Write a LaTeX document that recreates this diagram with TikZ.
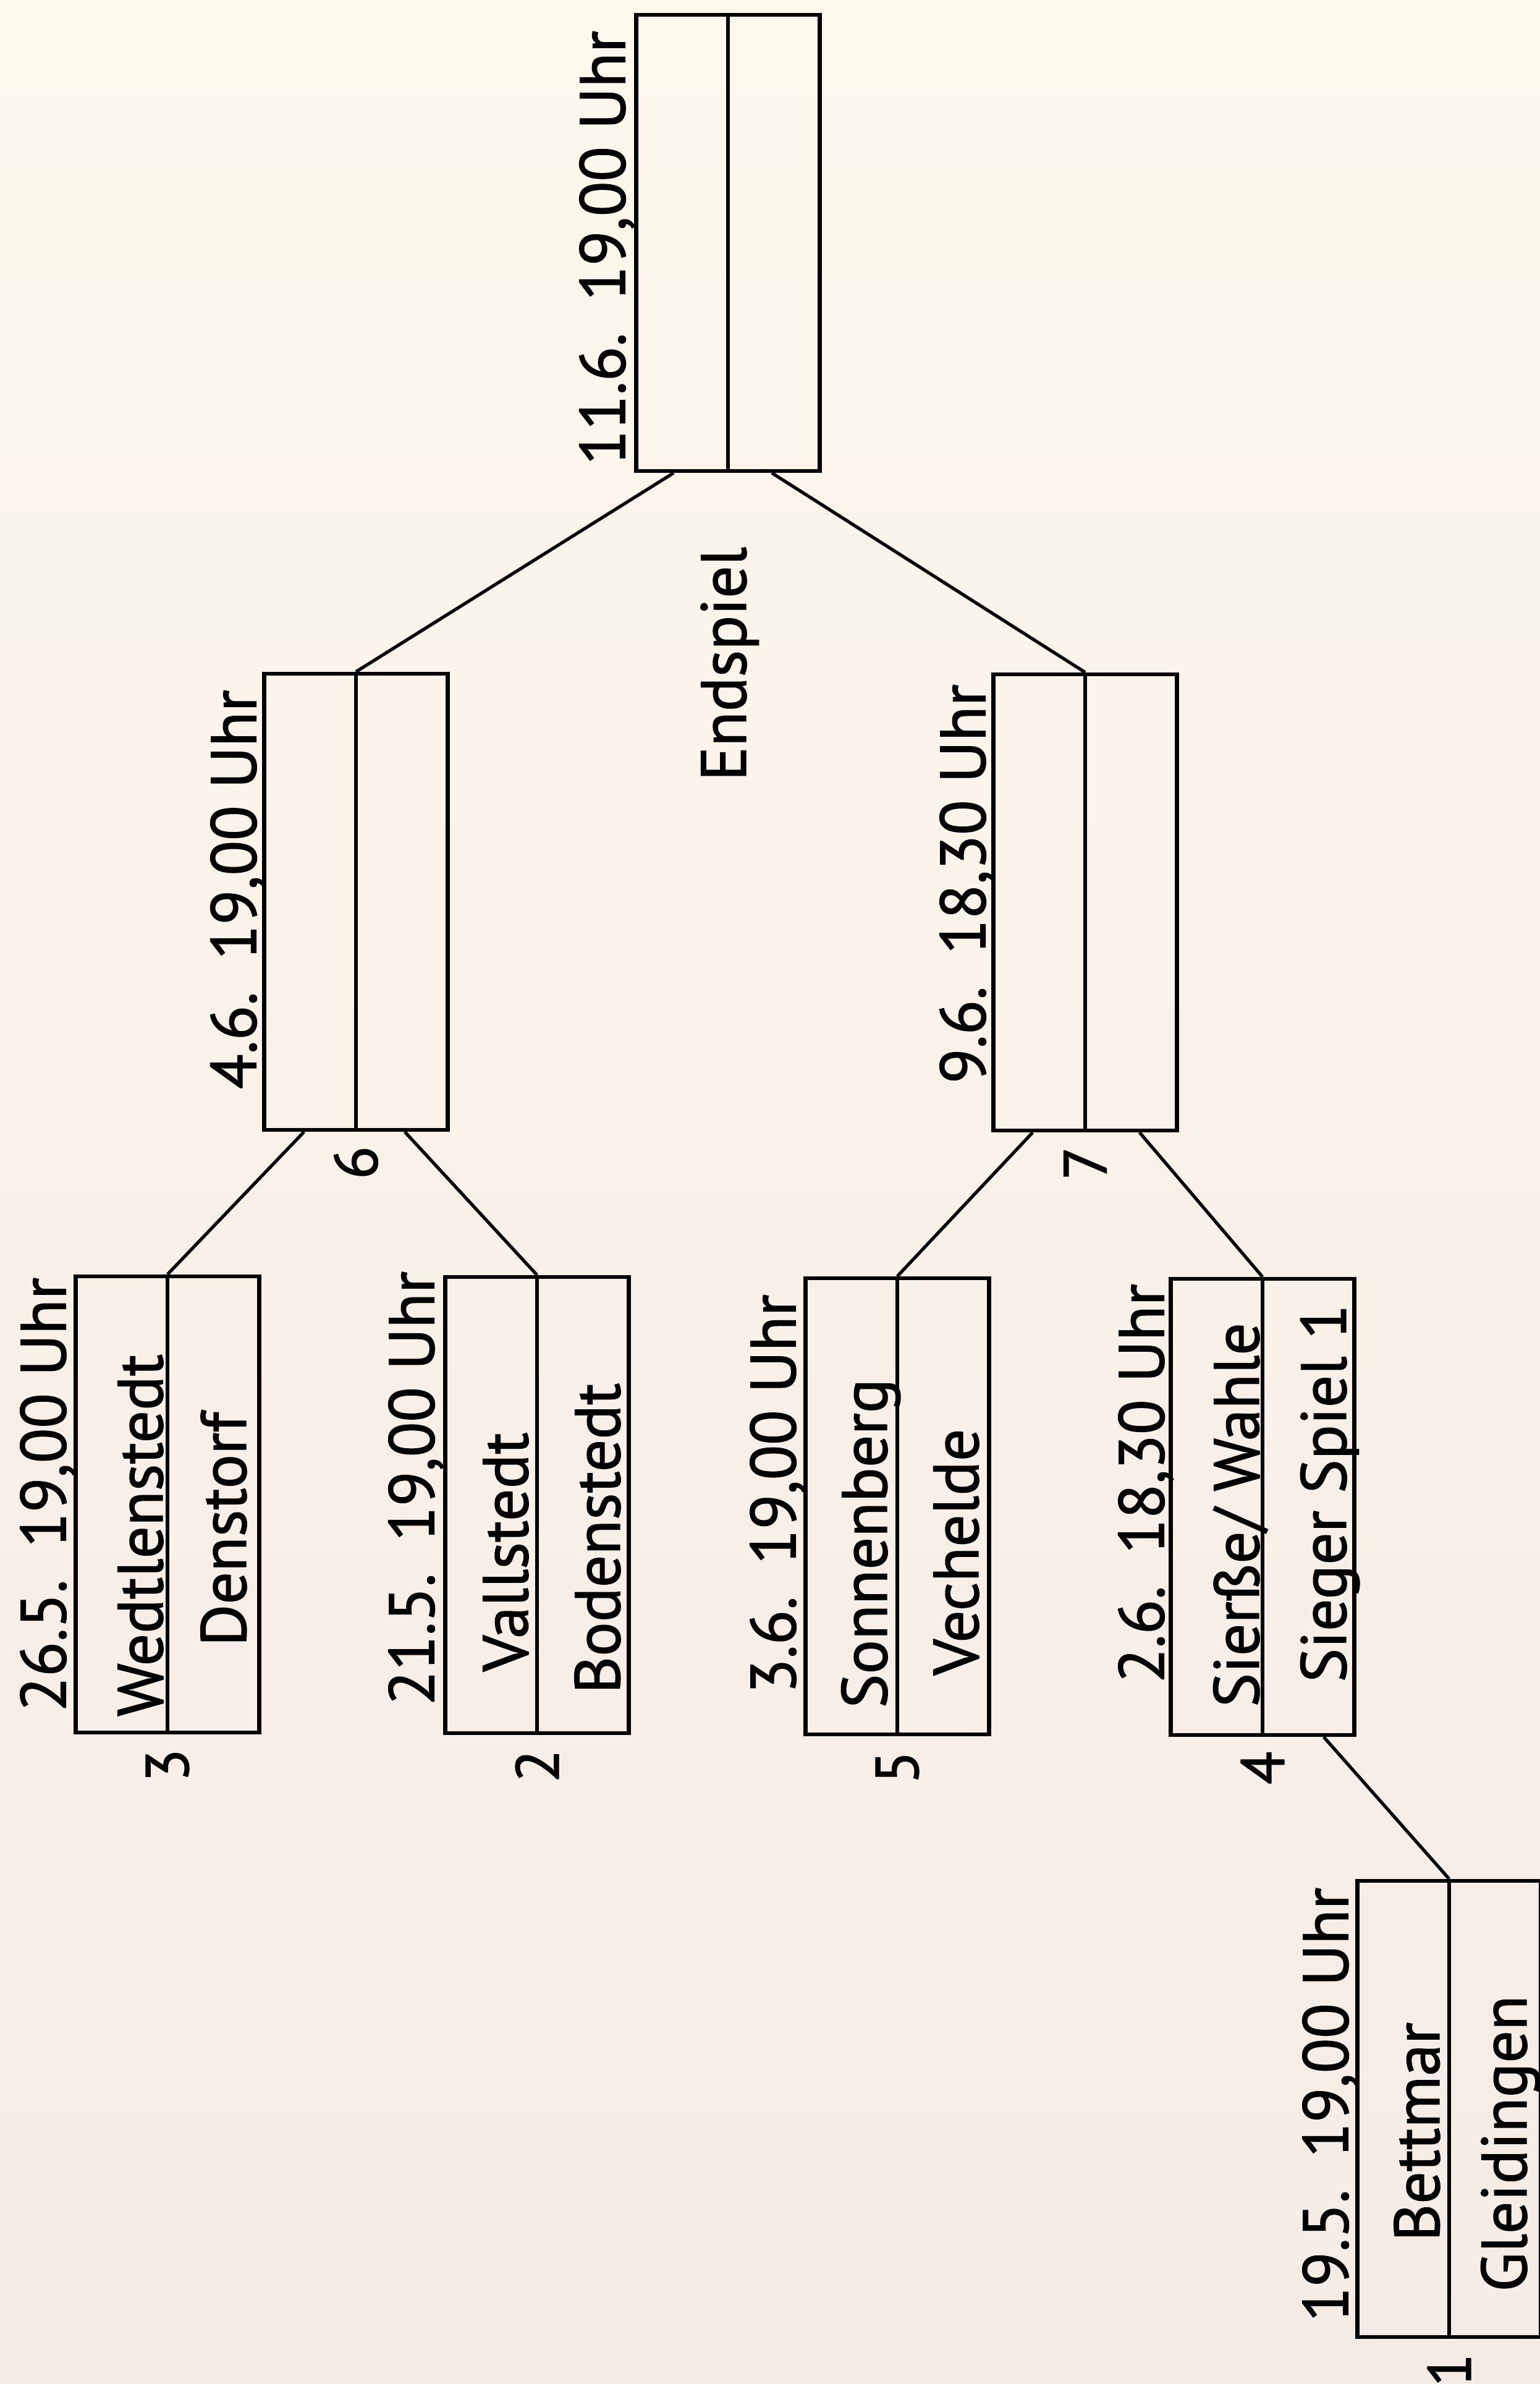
\documentclass[tikz,border=0pt]{standalone}
\usepackage{fontspec}
\setmainfont{PT Sans}
\newfontfamily\tafelschrift{PT Sans}[FakeBold=1.3]
\usepackage{xcolor}
\usepackage{tikz}
\usetikzlibrary{calc}
\definecolor{papierOben}{RGB}{252,248,236}
\definecolor{papierUnten}{RGB}{245,235,229}

\begin{document}
\begin{tikzpicture}[
			spielBox/.style={shape=rectangle, draw, line width=1.8pt, minimum width=2.97cm, minimum height=7.38cm, inner sep=0pt,
				path picture={\draw[line width=1.8pt] (path picture bounding box.north) -- (path picture bounding box.south);}},
			verbindung/.style={line width=1.5pt},
			datum/.style={rotate=90, anchor=base, inner sep=0pt, font=\tafelschrift\fontsize{29.5}{34}\selectfont},
			team/.style={rotate=90, anchor=base, inner sep=0pt, font=\tafelschrift\fontsize{29.5}{34}\selectfont},
			nummer/.style={rotate=90, inner sep=0pt, font=\tafelschrift\fontsize{28}{32}\selectfont}]
	\path[use as bounding box, top color=papierOben, bottom color=papierUnten] (0,0) rectangle (24.92,-38.57);

	% Spiele
	\node[spielBox] (endspiel) at (11.78,-3.93) {};
	\node[spielBox] (spiel6) at (5.76,-14.59) {};
	\node[spielBox] (spiel7) at (17.56,-14.60) {};
	\node[spielBox] (spiel3) at (2.71,-24.34) {};
	\node[spielBox] (spiel2) at (8.69,-24.35) {};
	\node[spielBox] (spiel5) at (14.52,-24.37) {};
	\node[spielBox] (spiel4) at (20.43,-24.38) {};
	\node[spielBox] (spiel1) at (23.45,-34.12) {};

	% Verbindungen
	\draw[verbindung] ($(endspiel.south)+(-0.88,0)$) -- (spiel6.north);
	\draw[verbindung] ($(endspiel.south)+(0.71,0)$) -- (spiel7.north);
	\draw[verbindung] ($(spiel6.south)+(-0.84,0)$) -- (spiel3.north);
	\draw[verbindung] ($(spiel6.south)+(0.79,0)$) -- (spiel2.north);
	\draw[verbindung] ($(spiel7.south)+(-0.85,0)$) -- (spiel5.north);
	\draw[verbindung] ($(spiel7.south)+(0.88,0)$) -- (spiel4.north);
	\draw[verbindung] ($(spiel4.south)+(0.99,0)$) -- (spiel1.north);

	% Termine
	\node[datum] (t11) at ($(endspiel.west)+(-0.15,-0.08)$) {11.6.\enspace 19,00 Uhr};
	\node[datum] (t6) at ($(spiel6.west)+(-0.10,0.20)$) {4.6.\enspace 19,00 Uhr};
	\node[datum] (t7) at ($(spiel7.west)+(-0.10,0.30)$) {9.6.\enspace 18,30 Uhr};
	\node[datum] (t3) at ($(spiel3.west)+(-0.13,0.16)$) {26.5.\enspace 19,00 Uhr};
	\node[datum] (t2) at ($(spiel2.west)+(-0.15,0.27)$) {21.5.\enspace 19,00 Uhr};
	\node[datum] (t5) at ($(spiel5.west)+(-0.13,0.20)$) {3.6.\enspace 19,00 Uhr};
	\node[datum] (t4) at ($(spiel4.west)+(-0.08,0.38)$) {2.6.\enspace 18,30 Uhr};
	\node[datum] (t1) at ($(spiel1.west)+(-0.12,0.07)$) {19.5.\enspace 19,00 Uhr};

	% Mannschaften
	\node[team] (wedt) at ($(spiel3.center)+(-0.08,-0.50)$) {Wedtlenstedt};
	\node[team] (dens) at ($(spiel3.center)+(1.27,-0.40)$) {Denstorf};
	\node[team] (vall) at ($(spiel2.center)+(-0.15,-0.76)$) {Vallstedt};
	\node[team] (bode) at ($(spiel2.center)+(1.34,-0.54)$) {Bodenstedt};
	\node[team] (sonn) at ($(spiel5.center)+(-0.17,-0.60)$) {Sonnenberg};
	\node[team] (vech) at ($(spiel5.center)+(1.31,-0.74)$) {Vechelde};
	\node[team] (sier) at ($(spiel4.center)+(-0.06,-0.13)$) {Sierße/ Wahle};
	\node[team] (sieg) at ($(spiel4.center)+(1.35,0.22)$) {Sieger Spiel 1};
	\node[team] (bett) at ($(spiel1.center)+(-0.16,-0.37)$) {Bettmar};
	\node[team] (glei) at ($(spiel1.center)+(1.25,-0.56)$) {Gleidingen};
	\node[team] (endl) at ($(endspiel.south)+(0.29,-3.09)$) {Endspiel};

	% Spielnummern
	\foreach \nr in {1,...,7} {
		\node[nummer] (nr\nr) at ($(spiel\nr.south)+(0,-0.5)$) {\nr};
	}
\end{tikzpicture}
\end{document}
